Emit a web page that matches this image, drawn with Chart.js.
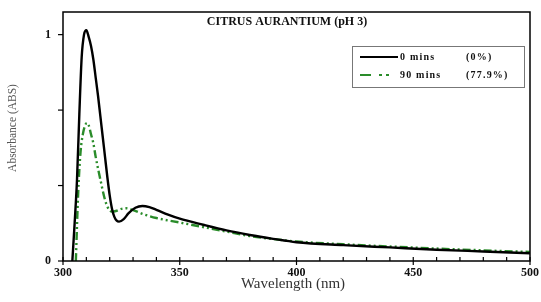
<!DOCTYPE html>
<html>
<head>
<meta charset="utf-8">
<script src="https://cdn.jsdelivr.net/npm/chart.js@4.4.1/dist/chart.umd.min.js"></script>
<style>
  html, body { margin: 0; padding: 0; background: #fff; }
  #wrap { width: 541px; height: 302px; }
</style>
</head>
<body>
<div id="wrap"><canvas id="uvChart" width="541" height="302"></canvas></div>
<script>
// Wavelengths (nm) and absorbance
const wl0 = [304, 305, 306, 307, 308, 309, 310, 311, 312, 313, 314, 315, 316, 317, 318, 319, 320, 321, 322, 323, 324, 326, 328, 331, 334, 337, 340, 345, 350, 360, 370, 380, 390, 400, 420, 440, 460, 480, 500];
const abs0 = [0, 0.17, 0.36, 0.65, 0.9, 1.0, 1.02, 0.99, 0.95, 0.89, 0.81, 0.73, 0.64, 0.55, 0.46, 0.37, 0.29, 0.23, 0.195, 0.178, 0.174, 0.185, 0.21, 0.235, 0.243, 0.238, 0.226, 0.205, 0.187, 0.16, 0.135, 0.115, 0.098, 0.083, 0.07, 0.06, 0.05, 0.042, 0.034];

const wl90 = [305.5, 306.5, 307.5, 308.5, 309.5, 310.3, 311, 312, 313, 314, 316, 318, 319.5, 321, 323, 325, 327, 330, 335, 340, 350, 360, 370, 380, 390, 400, 420, 440, 460, 480, 500];
const abs90 = [0, 0.3, 0.48, 0.56, 0.6, 0.61, 0.6, 0.56, 0.52, 0.46, 0.36, 0.27, 0.23, 0.218, 0.222, 0.23, 0.233, 0.225, 0.205, 0.19, 0.17, 0.15, 0.13, 0.11, 0.097, 0.086, 0.074, 0.064, 0.055, 0.047, 0.04];

const seriesLabels = ['0 mins', '90 mins'];
const seriesPct = ['(0%)', '(77.9%)'];
const chartTitle = 'CITRUS AURANTIUM (pH 3)';

const GREEN = '#2a8c2a';
const GREEN_DASH = [8, 3, 2, 3, 2, 3];
const SERIF = '"Liberation Serif", "DejaVu Serif", serif';

function toPoints(xs, ys) {
    return xs.map((x, i) => ({ x: x, y: ys[i] }));
}

// frame, ticks, title, legend and axis titles
const decorPlugin = {
    id: 'decor',
    afterDraw(chart) {
        const ctx = chart.ctx;
        const a = chart.chartArea;
        const xs = chart.scales.x;
        const ys = chart.scales.y;
        ctx.save();

        // frame
        ctx.strokeStyle = '#000';
        ctx.lineWidth = 1.5;
        ctx.strokeRect(a.left, a.top, a.right - a.left, a.bottom - a.top);

        // x ticks every 10 nm, inward; majors also outward
        ctx.lineWidth = 1.2;
        for (let v = 300; v <= 500; v += 10) {
            const px = xs.getPixelForValue(v);
            ctx.beginPath();
            ctx.moveTo(px, a.bottom - 4);
            ctx.lineTo(px, v % 50 === 0 ? a.bottom + 4 : a.bottom);
            ctx.stroke();
        }
        // y ticks every 1/3, outward
        for (let k = 0; k <= 3; k++) {
            const py = ys.getPixelForValue(k / 3);
            ctx.beginPath();
            ctx.moveTo(a.left - 5, py);
            ctx.lineTo(a.left, py);
            ctx.stroke();
        }

        // title
        ctx.fillStyle = '#111';
        ctx.font = 'bold 12px ' + SERIF;
        ctx.textAlign = 'center';
        ctx.textBaseline = 'middle';
        ctx.fillText(chartTitle, 287, 22);

        // legend box
        ctx.strokeStyle = '#777';
        ctx.lineWidth = 1;
        ctx.strokeRect(352.5, 46.5, 172, 41);

        ctx.strokeStyle = '#000';
        ctx.lineWidth = 2;
        ctx.beginPath();
        ctx.moveTo(360, 57);
        ctx.lineTo(398, 57);
        ctx.stroke();

        ctx.strokeStyle = GREEN;
        ctx.lineWidth = 2.2;
        ctx.setLineDash([11, 8, 3, 4, 3, 20]);
        ctx.beginPath();
        ctx.moveTo(360, 75);
        ctx.lineTo(398, 75);
        ctx.stroke();
        ctx.setLineDash([]);

        ctx.fillStyle = '#111';
        ctx.font = 'bold 10px ' + SERIF;
        ctx.textAlign = 'left';
        ctx.letterSpacing = '1.2px';
        ctx.fillText(seriesLabels[0], 400, 57);
        ctx.fillText(seriesPct[0], 466, 57);
        ctx.fillText(seriesLabels[1], 400, 75);
        ctx.fillText(seriesPct[1], 466, 75);
        ctx.letterSpacing = '0px';

        // axis titles
        ctx.fillStyle = '#333';
        ctx.font = '15px ' + SERIF;
        ctx.textAlign = 'center';
        ctx.fillText('Wavelength (nm)', 293, 284);

        ctx.fillStyle = '#555';
        ctx.font = '11.5px ' + SERIF;
        ctx.translate(13, 128);
        ctx.rotate(-Math.PI / 2);
        ctx.fillText('Absorbance (ABS)', 0, 0);

        ctx.restore();
    }
};

function createSpectrumChart() {
    const ctx = document.getElementById('uvChart');

    new Chart(ctx, {
        type: 'line',
        data: {
            datasets: [{
                label: seriesLabels[0],
                data: toPoints(wl0, abs0),
                borderColor: '#000',
                borderWidth: 2.4,
                pointRadius: 0,
                cubicInterpolationMode: 'monotone'
            }, {
                label: seriesLabels[1],
                data: toPoints(wl90, abs90),
                borderColor: GREEN,
                borderWidth: 2.4,
                borderDash: GREEN_DASH,
                pointRadius: 0,
                cubicInterpolationMode: 'monotone'
            }]
        },
        options: {
            responsive: false,
            animation: false,
            layout: { padding: { left: 0, right: 11, top: 12, bottom: 0 } },
            plugins: {
                legend: { display: false },
                title: { display: false },
                tooltip: { enabled: false }
            },
            scales: {
                x: {
                    type: 'linear',
                    min: 300,
                    max: 500,
                    grid: { display: false, drawTicks: false },
                    border: { display: false },
                    afterFit: scale => {
                        scale.height = 41;
                        scale.paddingLeft = 0;
                        scale.paddingRight = 0;
                    },
                    ticks: {
                        stepSize: 50,
                        padding: 5,
                        color: '#111',
                        font: { family: SERIF, size: 12, weight: 'bold' }
                    }
                },
                y: {
                    min: 0,
                    max: 1.1,
                    grid: { display: false, drawTicks: false },
                    border: { display: false },
                    afterFit: scale => {
                        scale.width = 63;
                        scale.paddingTop = 0;
                        scale.paddingBottom = 0;
                    },
                    afterBuildTicks: scale => {
                        scale.ticks = [{ value: 0 }, { value: 1 }];
                    },
                    ticks: {
                        padding: 12,
                        color: '#111',
                        font: { family: SERIF, size: 12, weight: 'bold' },
                        callback: v => String(v)
                    }
                }
            }
        },
        plugins: [decorPlugin]
    });
}

createSpectrumChart();
</script>
</body>
</html>
